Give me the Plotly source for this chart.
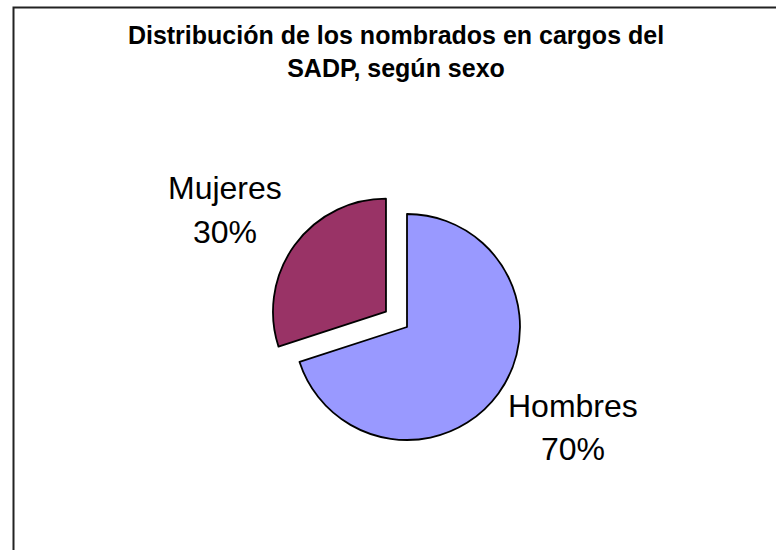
import plotly.graph_objects as go

# Data
labels = ["Hombres", "Mujeres"]
values = [70, 30]
colors = ["#9999FF", "#993366"]
pulls = [0, 0.23]

title_text = "Distribución de los nombrados en cargos del<br>SADP, según sexo"

W, H = 776, 550

def px(x):
    return x / W

def py(y):
    return 1 - y / H

fig = go.Figure()

# pie centre ~ (407, 327) px, radius ~113 px, domain enlarged for the pull
cx, cy, r = 407, 327, 113
half = r * (1 + max(pulls))
fig.add_trace(go.Pie(
    labels=labels,
    values=values,
    sort=False,
    direction="clockwise",
    rotation=0,
    pull=pulls,
    marker=dict(colors=colors, line=dict(color="black", width=1.8)),
    textinfo="none",
    hoverinfo="label+percent",
    showlegend=False,
    domain=dict(x=[px(cx - half), px(cx + half)], y=[py(cy + half), py(cy - half)]),
))

# outside labels: name and percentage
label_pos = {"Mujeres": (225, 188, 232), "Hombres": (573, 406, 449)}
total = sum(values)
annotations = []
for lab, val in zip(labels, values):
    x, y1, y2 = label_pos[lab]
    for txt, yy in [(lab, y1), (f"{round(100 * val / total)}%", y2)]:
        annotations.append(dict(
            x=px(x), y=py(yy), xref="paper", yref="paper",
            text=txt, showarrow=False, xanchor="center", yanchor="middle",
            font=dict(family="Liberation Sans, Arial, sans-serif", size=32, color="black"),
        ))

fig.update_layout(
    width=W,
    height=H,
    margin=dict(l=0, r=0, t=0, b=0),
    paper_bgcolor="white",
    plot_bgcolor="white",
    title=dict(
        text=title_text,
        x=px(396), xanchor="center",
        y=py(44), yanchor="top",
        font=dict(family="Liberation Sans, Arial, sans-serif", size=25, color="black", weight="bold"),
    ),
    annotations=annotations,
    shapes=[dict(
        type="rect", xref="paper", yref="paper",
        x0=px(13.5), x1=1.05, y0=-0.05, y1=py(7.5),
        line=dict(color="#222222", width=2),
        fillcolor="rgba(0,0,0,0)",
    )],
)

# remove the default page margin so the figure sits at the window origin
fig.write_html("out.html", config={"displayModeBar": False},
               post_script="document.body.style.margin='0';")
